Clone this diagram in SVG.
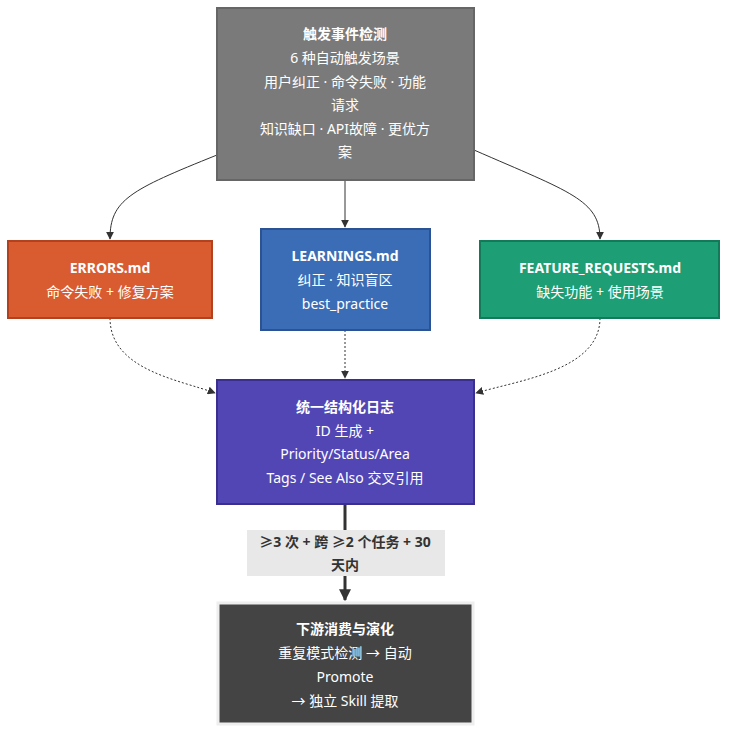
<svg xmlns="http://www.w3.org/2000/svg" width="735" height="742" viewBox="0 0 735 742">
<defs>
<style>
text{font-family:"Noto Sans","Noto Sans CJK SC",sans-serif;font-size:14px;fill:#fff;text-anchor:middle}
.b{font-weight:bold}
.c{fill:none;stroke:#333;stroke-width:1}
.d{fill:none;stroke:#333;stroke-width:1;stroke-dasharray:2 2}
.lab{fill:#333}
</style>
<marker id="a" viewBox="0 0 10 10" refX="9" refY="5" markerWidth="8" markerHeight="8" orient="auto"><path d="M0,0L10,5L0,10z" fill="#333"/></marker>
<marker id="a2" viewBox="0 0 10 10" refX="9" refY="5" markerWidth="4" markerHeight="4" orient="auto"><path d="M0,0L10,5L0,10z" fill="#333"/></marker>
</defs>
<rect width="735" height="742" fill="#fff"/>
<g id="connectors">
<path class="c" d="M217,155 C130,190 110,200 110,239" marker-end="url(#a)"/>
<path class="c" d="M345,180 L345,227" marker-end="url(#a)"/>
<path class="c" d="M474,150 C570,192 600,200 600,239" marker-end="url(#a)"/>
<path class="d" d="M110,318 C110,370 180,380 215,393" marker-end="url(#a)"/>
<path class="d" d="M345,330 L345,378" marker-end="url(#a)"/>
<path class="d" d="M600,318 C600,370 520,380 476,393" marker-end="url(#a)"/>
<path d="M345,504 L345,600" fill="none" stroke="#333" stroke-width="3" marker-end="url(#a2)"/>
<rect x="247" y="530" width="198" height="46" fill="#e8e8e8"/>
<text class="b lab" x="345" y="547">≥3 次 + 跨 ≥2 个任务 + 30</text>
<text class="b lab" x="345" y="570">天内</text>
</g>
<g id="trigger">
<rect x="217" y="8" width="257" height="172" fill="#7a7a7a" stroke="#666" stroke-width="2"/>
<text class="b" x="345" y="39">触发事件检测</text>
<text x="345" y="63">6 种自动触发场景</text>
<text x="345" y="87">用户纠正 · 命令失败 · 功能</text>
<text x="345" y="110">请求</text>
<text x="345" y="134">知识缺口 · API故障 · 更优方</text>
<text x="345" y="157">案</text>
</g>
<g id="errors">
<rect x="8" y="241" width="204" height="77" fill="#d95b30" stroke="#b3411e" stroke-width="2"/>
<text class="b" x="110" y="273">ERRORS.md</text>
<text x="110" y="297">命令失败 + 修复方案</text>
</g>
<g id="learnings">
<rect x="261" y="229" width="169" height="101" fill="#3a6db5" stroke="#2b5394" stroke-width="2"/>
<text class="b" x="345" y="261">LEARNINGS.md</text>
<text x="345" y="285">纠正 · 知识盲区</text>
<text x="345" y="309">best_practice</text>
</g>
<g id="features">
<rect x="480" y="241" width="239" height="77" fill="#1e9e74" stroke="#137a59" stroke-width="2"/>
<text class="b" x="600" y="273">FEATURE_REQUESTS.md</text>
<text x="600" y="297">缺失功能 + 使用场景</text>
</g>
<g id="unified">
<rect x="217" y="380" width="257" height="124" fill="#5246b5" stroke="#3a2f8f" stroke-width="2"/>
<text class="b" x="345" y="412">统一结构化日志</text>
<text x="345" y="436">ID 生成 +</text>
<text x="345" y="459">Priority/Status/Area</text>
<text x="345" y="483">Tags / See Also 交叉引用</text>
</g>
<g id="downstream">
<rect x="218" y="603" width="255" height="121" fill="#444" stroke="#eee" stroke-width="3"/>
<text class="b" x="345" y="634">下游消费与演化</text>
<text x="345" y="658">重复模式检测 → 自动</text>
<text x="345" y="682">Promote</text>
<text x="345" y="706">→ 独立 Skill 提取</text>
</g>
</svg>
